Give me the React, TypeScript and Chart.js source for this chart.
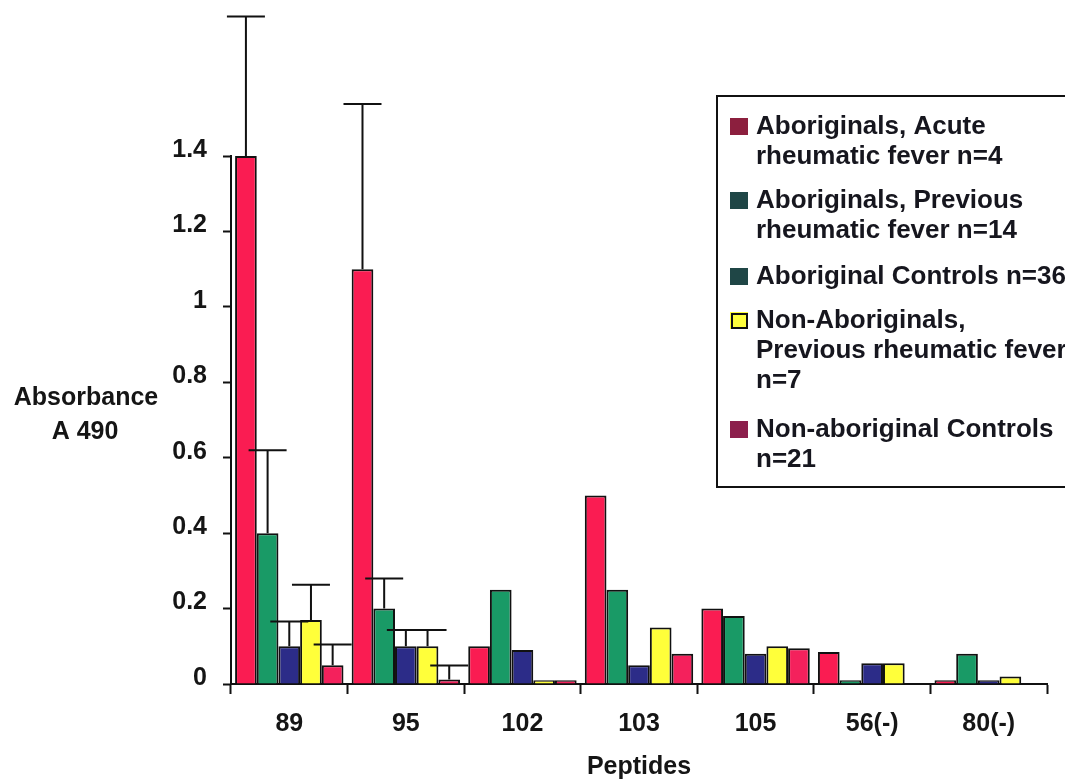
import React, { useEffect, useRef } from "react";
import { Chart, registerables } from "chart.js";

Chart.register(...registerables);

const categories = ["89", "95", "102", "103", "105", "56(-)", "80(-)"];
const acuteARF = [1.4, 1.1, 0.1, 0.5, 0.2, 0.085, 0.01];
const previousARF = [0.4, 0.2, 0.25, 0.25, 0.18, 0.01, 0.08];
const aboriginalControls = [0.1, 0.1, 0.09, 0.05, 0.08, 0.055, 0.01];
const nonAborPrevious = [0.17, 0.1, 0.01, 0.15, 0.1, 0.055, 0.02];
const nonAborControls = [0.05, 0.012, 0.01, 0.08, 0.095, 0, 0];

const acuteErr = [1.77, 1.538, null, null, null, null, null];
const previousErr = [0.62, 0.28, null, null, null, null, null];
const aborControlsErr = [0.166, 0.143, null, null, null, null, null];
const nonAborPrevErr = [0.263, 0.143, null, null, null, null, null];
const nonAborControlsErr = [0.105, 0.049, null, null, null, null, null];

const yTickLabels = ["0", "0.2", "0.4", "0.6", "0.8", "1", "1.2", "1.4"];

const seriesLegend = [
  ["Aboriginals, Acute", "rheumatic fever n=4"],
  ["Aboriginals, Previous", "rheumatic fever n=14"],
  ["Aboriginal Controls n=36"],
  ["Non-Aboriginals,", "Previous rheumatic fever", "n=7"],
  ["Non-aboriginal Controls", "n=21"],
];
const legendSwatches = ["#8c1f3e", "#1f4646", "#1f4646", "#ffff3c", "#8c1f4c"];
const barColors = ["#fa1c52", "#199a66", "#2c2c88", "#ffff3a", "#f4215c"];

const FONT = "'Liberation Sans', Arial, Helvetica, sans-serif";

const errorBarPlugin = {
  id: "errorBars",
  afterDatasetsDraw(chart: any) {
    const ctx = chart.ctx;
    const yScale = chart.scales.y;
    const errs = [acuteErr, previousErr, aborControlsErr, nonAborPrevErr, nonAborControlsErr];
    ctx.save();
    ctx.strokeStyle = "#111";
    ctx.lineWidth = 2;
    errs.forEach((arr, di) => {
      const meta = chart.getDatasetMeta(di);
      arr.forEach((v, i) => {
        if (v === null || v === undefined) return;
        const el = meta.data[i];
        const x = el.x;
        const yTop = el.y;
        const yE = yScale.getPixelForValue(v);
        ctx.beginPath();
        ctx.moveTo(x, yTop);
        ctx.lineTo(x, yE);
        ctx.moveTo(x - 19, yE);
        ctx.lineTo(x + 19, yE);
        ctx.stroke();
      });
    });
    ctx.restore();
  },
};

const annotationPlugin = {
  id: "textAndLegend",
  afterDraw(chart: any) {
    const ctx = chart.ctx;
    ctx.save();
    // y-axis title (horizontal)
    ctx.fillStyle = "#151515";
    ctx.font = `bold 25px ${FONT}`;
    ctx.textAlign = "center";
    ctx.textBaseline = "middle";
    ctx.fillText("Absorbance", 86, 398);
    ctx.fillText("A 490", 85, 432);

    // legend box
    ctx.fillStyle = "#ffffff";
    ctx.fillRect(717, 96, 400, 391);
    ctx.strokeStyle = "#111";
    ctx.lineWidth = 2;
    ctx.strokeRect(717, 96, 400, 391);

    const starts = [127, 201, 277, 321, 430];
    const lineH = 30;
    ctx.font = `bold 26px ${FONT}`;
    ctx.textAlign = "left";
    seriesLegend.forEach((lines, i) => {
      const y0 = starts[i];
      ctx.fillStyle = legendSwatches[i];
      ctx.fillRect(730, y0 - 9, 18, 17);
      if (i === 3) {
        ctx.strokeStyle = "#111";
        ctx.lineWidth = 2;
        ctx.strokeRect(732, y0 - 7, 15, 14);
      }
      ctx.fillStyle = "#16161e";
      lines.forEach((t, k) => {
        ctx.fillText(t, 756, y0 + k * lineH);
      });
    });
    ctx.restore();
  },
};

export default function App() {
  const ref = useRef<HTMLCanvasElement | null>(null);
  useEffect(() => {
    if (!ref.current) return;
    const datasets = [acuteARF, previousARF, aboriginalControls, nonAborPrevious, nonAborControls].map(
      (d, i) => ({
        label: seriesLegend[i].join(" "),
        data: d,
        backgroundColor: barColors[i],
        borderColor: "#111",
        borderWidth: 2,
        categoryPercentage: 0.93,
        barPercentage: 1.0,
      })
    );
    const chart = new Chart(ref.current, {
      type: "bar",
      data: { labels: categories, datasets },
      options: {
        animation: false,
        responsive: true,
        maintainAspectRatio: false,
        layout: { padding: { top: 156, right: 18, left: 0, bottom: 0 } },
        plugins: { legend: { display: false }, tooltip: { enabled: false } },
        scales: {
          x: {
            afterFit: (s: any) => {
              s.height = 97;
            },
            border: { color: "#111", width: 2 },
            grid: {
              drawOnChartArea: false,
              drawTicks: true,
              tickLength: 10,
              tickColor: "#111",
              tickWidth: 2,
              offset: true,
            },
            ticks: {
              color: "#151515",
              font: { family: FONT, size: 25, weight: "bold" },
              padding: 15,
              maxRotation: 0,
            },
            title: {
              display: true,
              text: "Peptides",
              color: "#151515",
              font: { family: FONT, size: 25, weight: "bold", lineHeight: 1.1 },
              padding: { top: 0, bottom: 0 },
            },
          },
          y: {
            min: 0,
            max: 1.4,
            afterFit: (s: any) => {
              s.width = 231;
            },
            border: { color: "#111", width: 2 },
            grid: {
              drawOnChartArea: false,
              drawTicks: true,
              tickLength: 8,
              tickColor: "#111",
              tickWidth: 2,
            },
            ticks: {
              stepSize: 0.2,
              color: "#151515",
              font: { family: FONT, size: 25, weight: "bold" },
              padding: 16,
              labelOffset: -6,
              callback: (_v: any, i: number) => yTickLabels[i],
            },
          },
        },
      },
      plugins: [errorBarPlugin, annotationPlugin],
    });
    return () => chart.destroy();
  }, []);
  return (
    <div style={{ position: "absolute", left: 0, top: 0, width: 1065, height: 781, background: "#fff" }}>
      <canvas ref={ref} />
    </div>
  );
}
